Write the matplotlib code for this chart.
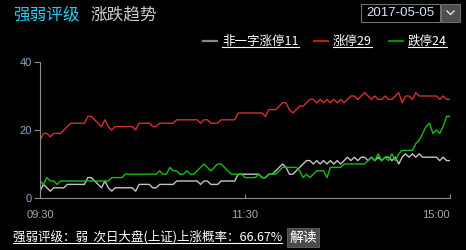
"""Strength rating / limit up-down trend chart"""

import matplotlib

matplotlib.use("Agg")
from matplotlib import pyplot as plt
from matplotlib.lines import Line2D
from matplotlib.patches import Rectangle

plt.rcParams["font.family"] = ["Noto Sans CJK SC", "DejaVu Sans"]

W, H = 466, 250

# trading minutes since 09:30 (2 minute samples, lunch break removed)
minutes = list(range(0, 241, 2))
x_ticks = [0, 120, 240]
x_tick_labels = ["09:30", "11:30", "15:00"]
y_ticks = [0, 20, 40]

non_one_word = [
    2, 4, 3, 2, 3, 3, 3, 3, 4, 4, 4, 4, 4, 4, 6, 6, 5, 4, 3, 5,
    3, 2, 3, 3, 3, 3, 3, 3, 2, 4, 4, 4, 4, 3, 3, 4, 4, 4, 4, 4,
    5, 5, 5, 5, 5, 5, 5, 4, 5, 5, 4, 4, 4, 5, 5, 5, 5, 5, 7, 7,
    7, 7, 7, 7, 7, 6, 6, 7, 7, 8, 9, 10, 9, 7, 7, 8, 9, 10, 11, 11,
    10, 11, 10, 11, 10, 11, 10, 11, 10, 11, 12, 11, 12, 11, 12, 12, 11, 12, 11, 12,
    11, 12, 12, 11, 12, 10, 12, 13, 12, 13, 12, 13, 12, 12, 12, 12, 12, 11, 12, 11,
    11,
]
limit_up = [
    17, 19, 19, 18, 19, 19, 19, 20, 21, 22, 22, 22, 22, 22, 24, 24, 23, 22, 21, 23,
    21, 20, 21, 21, 21, 21, 21, 21, 20, 22, 22, 22, 22, 21, 21, 22, 22, 22, 22, 22,
    23, 23, 23, 23, 23, 23, 23, 22, 23, 23, 22, 22, 22, 23, 23, 23, 23, 23, 25, 25,
    25, 25, 25, 25, 25, 25, 24, 26, 26, 26, 27, 28, 28, 26, 25, 26, 27, 27, 28, 29,
    29, 28, 29, 28, 29, 28, 29, 28, 29, 28, 29, 30, 30, 29, 30, 31, 30, 29, 30, 29,
    29, 30, 29, 29, 30, 31, 28, 30, 30, 29, 31, 30, 30, 30, 30, 30, 30, 29, 30, 29,
    29,
]
limit_down = [
    5, 4, 6, 5, 5, 4, 5, 5, 5, 5, 5, 5, 5, 5, 5, 5, 5, 5, 5, 5,
    5, 6, 6, 6, 6, 7, 7, 7, 7, 7, 7, 7, 7, 7, 7, 8, 7, 7, 9, 8,
    8, 7, 7, 8, 7, 7, 8, 9, 10, 9, 8, 9, 10, 10, 9, 8, 7, 7, 7, 7,
    6, 6, 6, 6, 7, 6, 6, 7, 7, 7, 8, 9, 9, 9, 9, 9, 8, 6, 7, 6,
    7, 8, 8, 8, 6, 9, 9, 9, 9, 10, 10, 10, 10, 10, 10, 10, 11, 12, 11, 13,
    11, 12, 11, 13, 11, 13, 14, 14, 14, 14, 16, 17, 19, 21, 22, 19, 20, 19, 21, 24,
    24,
]

series = [
    (non_one_word, "#c4c4c4", "#8a8a8a", "非一字涨停11"),
    (limit_up, "#d43030", "#a82020", "涨停29"),
    (limit_down, "#10c010", "#0a8a0a", "跌停24"),
]


def fx(x):
    return x / W


def fy(y):
    return 1 - y / H


def underline(fig, txt, color, lw=0.8):
    """Draw a line under a figure text"""
    fig.canvas.draw()
    bb = txt.get_window_extent().transformed(fig.transFigure.inverted())
    fig.add_artist(
        Line2D([bb.x0, bb.x1], [bb.y0 + 0.004, bb.y0 + 0.004], transform=fig.transFigure, color=color, lw=lw)
    )


fig = plt.figure(figsize=(W / 100, H / 100), dpi=100, facecolor="black")

ax = fig.add_axes([fx(40), fy(198), fx(410), 136 / H])
ax.set_facecolor("black")
for values, color, _, _ in series:
    ax.plot(minutes, values, color=color, lw=1.0)

ax.set_xlim(0, 240)
ax.set_ylim(0, 40)
ax.set_xticks(x_ticks)
ax.set_xticklabels(x_tick_labels)
ax.set_yticks(y_ticks)
for side in ("top", "right"):
    ax.spines[side].set_visible(False)
for side in ("left", "bottom"):
    ax.spines[side].set_color("#8c8c8c")
ax.tick_params(axis="y", direction="out", length=4, color="#8c8c8c", labelcolor="#88a6cc",
               labelsize=8, pad=2)
ax.tick_params(axis="x", direction="in", length=3, color="#8c8c8c", labelcolor="#a8a8a8",
               labelsize=8, pad=9)
for lab in ax.get_yticklabels():
    lab.set_family("Liberation Sans")
for lab in ax.get_xticklabels():
    lab.set_family("Liberation Sans")
ax.get_xticklabels()[-1].set_ha("right")
ax.get_xticklabels()[-1].set_x(241)

# title
fig.text(fx(13), fy(15), "强弱评级", color="#22cdea", fontsize=12, va="center", ha="left")
fig.text(fx(90), fy(15), "涨跌趋势", color="#cccccc", fontsize=12, va="center", ha="left")

# date selector
fig.add_artist(Rectangle((fx(361), fy(22)), fx(79), 18 / H, transform=fig.transFigure,
                         facecolor="black", edgecolor="#6e6e6e", lw=0.8))
fig.add_artist(Rectangle((fx(441), fy(22)), fx(19), 18 / H, transform=fig.transFigure,
                         facecolor="#4e4e4e", edgecolor="#6e6e6e", lw=0.8))
fig.add_artist(Line2D([fx(447), fx(450.5), fx(454)], [fy(11), fy(14.5), fy(11)],
                      transform=fig.transFigure, color="#e0e0e0", lw=1.0))
fig.text(fx(400), fy(13.5), "2017-05-05", color="#d8e4ff", fontsize=9.5, va="center",
         ha="center", family="Liberation Sans")

# legend
legend_x = [(203, 222), (314, 333), (389, 408)]
for (values, _, sample, label), (lx, tx) in zip(series, legend_x):
    fig.add_artist(Line2D([fx(lx), fx(lx + 14)], [fy(41), fy(41)], transform=fig.transFigure,
                          color=sample, lw=1.6))
    t = fig.text(fx(tx), fy(41), label, color="white", fontsize=9, va="center", ha="left")
    underline(fig, t, "white")

# bottom line
bottom = fig.text(fx(13), fy(237), "强弱评级：弱  次日大盘(上证)上涨概率：66.67%", color="white",
                  fontsize=9, va="center", ha="left")
underline(fig, bottom, "white")
fig.add_artist(Rectangle((fx(287), fy(247)), fx(32), 19 / H, transform=fig.transFigure,
                         facecolor="#4a4a4a", edgecolor="#5a5a5a", lw=0.8))
fig.text(fx(303), fy(237.5), "解读", color="white", fontsize=10, va="center", ha="center")

fig.savefig("out.png", dpi=100, facecolor="black")
